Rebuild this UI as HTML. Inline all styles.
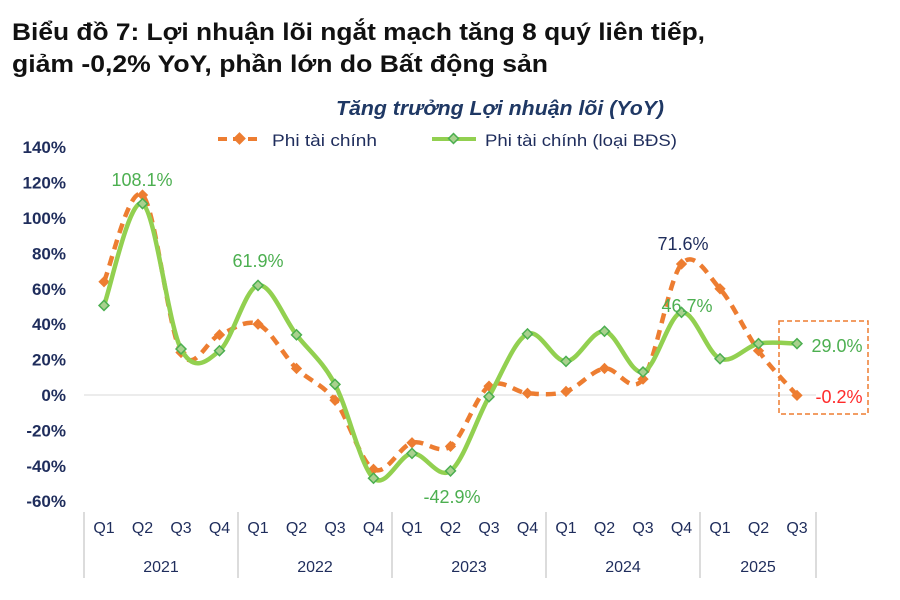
<!DOCTYPE html>
<html><head><meta charset="utf-8"><style>
body{margin:0;background:#fff;width:900px;height:595px;overflow:hidden;font-family:"Liberation Sans",Arial,sans-serif}
svg text{font-family:"Liberation Sans",Arial,sans-serif}
</style></head><body>
<svg id="s" width="900" height="595" xmlns="http://www.w3.org/2000/svg">
<text x="12" y="40" font-size="24" font-weight="bold" fill="#111" textLength="693" lengthAdjust="spacingAndGlyphs">Biểu đồ 7: Lợi nhuận lõi ngắt mạch tăng 8 quý liên tiếp,</text>
<text x="12" y="72" font-size="24" font-weight="bold" fill="#111" textLength="536" lengthAdjust="spacingAndGlyphs">giảm -0,2% YoY, phần lớn do Bất động sản</text>
<text x="336" y="115" font-size="20" font-weight="bold" font-style="italic" fill="#1f3864" textLength="328" lengthAdjust="spacingAndGlyphs">Tăng trưởng Lợi nhuận lõi (YoY)</text>
<line x1="218" y1="139" x2="262" y2="139" stroke="#ed7d31" stroke-width="4" stroke-dasharray="9,6"/>
<rect x="235" y="134" width="9" height="9" fill="#ed7d31" transform="rotate(45 239.5 138.5)"/>
<text x="272" y="146" font-size="17" fill="#1f2d5c" textLength="105" lengthAdjust="spacingAndGlyphs">Phi tài chính</text>
<line x1="432" y1="139" x2="476" y2="139" stroke="#92d050" stroke-width="4"/>
<rect x="450" y="135" width="7" height="7" fill="#a9d18e" stroke="#4caf50" stroke-width="1.5" transform="rotate(45 453.5 138.5)"/>
<text x="485" y="146" font-size="17" fill="#1f2d5c" textLength="192" lengthAdjust="spacingAndGlyphs">Phi tài chính (loại BĐS)</text>
<g id="ax" font-size="17" font-weight="bold" fill="#1f2d5c" text-anchor="end"></g>
<line x1="84" y1="395" x2="816" y2="395" stroke="#d9d9d9" stroke-width="1"/>
<g id="g"></g>
<rect x="779" y="321" width="89" height="93" fill="none" stroke="#ed7d31" stroke-width="1.5" stroke-dasharray="5,3"/>
<g font-size="18" text-anchor="middle">
<text x="142" y="186" fill="#4caf50">108.1%</text>
<text x="258" y="267" fill="#4caf50">61.9%</text>
<text x="452" y="503" fill="#4caf50">-42.9%</text>
<text x="683" y="250" fill="#1f2d5c">71.6%</text>
<text x="687" y="312" fill="#4caf50">46.7%</text>
<text x="837" y="352" fill="#4caf50">29.0%</text>
<text x="839" y="403" fill="#ff2a2a">-0.2%</text>
</g>
</svg>
<script>
const ns="http://www.w3.org/2000/svg",s=document.getElementById('s'),g=document.getElementById('g'),ax=document.getElementById('ax');
function el(t,a,p){const e=document.createElementNS(ns,t);for(const k in a)e.setAttribute(k,a[k]);(p||s).appendChild(e);return e;}
const Y=v=>395-v*1.77, X=i=>104+i*38.5;
for(let v=-60;v<=140;v+=20){const t=el('text',{x:66,y:Y(v)+6},ax);t.textContent=v+'%';}
const q=['Q1','Q2','Q3','Q4'];
for(let i=0;i<19;i++){const t=el('text',{x:X(i),y:533,'font-size':16,fill:'#1f2d5c','text-anchor':'middle'});t.textContent=q[i%4];}
[84,238,392,546,700,816].forEach(x=>el('line',{x1:x,y1:512,x2:x,y2:578,stroke:'#d0d0d0','stroke-width':1.5}));
[['2021',161],['2022',315],['2023',469],['2024',623],['2025',758]].forEach(([t,x])=>{el('text',{x:x,y:572,'font-size':16,fill:'#1f2d5c','text-anchor':'middle'}).textContent=t;});
const gr=[50.6,108.1,26,25,61.9,34,6,-47,-33,-42.9,-1,34.5,19,36,13,46.7,20.5,29,29.0];
const og=[64,113,24,34,40,15,-3,-42,-27,-29,5,1,2,15,9,74,60,25,-0.2];
function path(d){const p=d.map((v,i)=>[X(i),Y(v)]);let s='M'+p[0];for(let i=0;i<p.length-1;i++){const a=p[i-1]||p[i],b=p[i],c=p[i+1],e=p[i+2]||c;s+=` C${b[0]+(c[0]-a[0])/6},${b[1]+(c[1]-a[1])/6} ${c[0]-(e[0]-b[0])/6},${c[1]-(e[1]-b[1])/6} ${c[0]},${c[1]}`;}return s;}
el('path',{d:path(og),fill:'none',stroke:'#ed7d31','stroke-width':4.5,'stroke-dasharray':'10,7'},g);
og.forEach((v,i)=>el('rect',{x:X(i)-4,y:Y(v)-4,width:8,height:8,fill:'#ed7d31',transform:`rotate(45 ${X(i)} ${Y(v)})`},g));
el('path',{d:path(gr),fill:'none',stroke:'#92d050','stroke-width':4.5},g);
gr.forEach((v,i)=>el('rect',{x:X(i)-3.5,y:Y(v)-3.5,width:7,height:7,fill:'#a9d18e',stroke:'#4caf50','stroke-width':1.5,transform:`rotate(45 ${X(i)} ${Y(v)})`},g));
</script>
</body></html>
